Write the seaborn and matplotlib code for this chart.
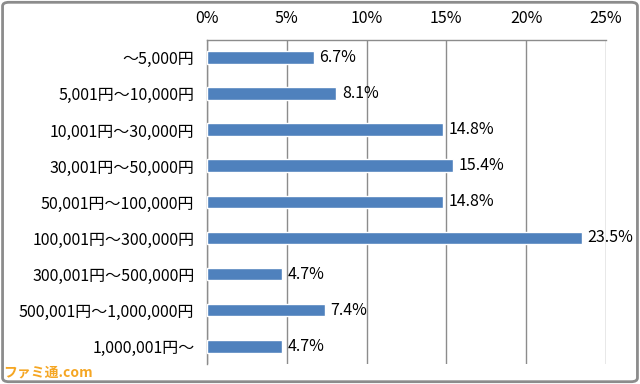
import matplotlib
matplotlib.use("Agg")
import pandas as pd
import seaborn as sns
from matplotlib import pyplot as plt
from matplotlib.patches import FancyBboxPatch

categories = ["～5,000円", "5,001円～10,000円", "10,001円～30,000円", "30,001円～50,000円",
              "50,001円～100,000円", "100,001円～300,000円", "300,001円～500,000円",
              "500,001円～1,000,000円", "1,000,001円～"]
values = [6.7, 8.1, 14.8, 15.4, 14.8, 23.5, 4.7, 7.4, 4.7]
tick_values = [0, 5, 10, 15, 20, 25]
tick_labels = ["0%", "5%", "10%", "15%", "20%", "25%"]

sns.set_theme(style="white")
plt.rcParams['font.family'] = ['Noto Sans CJK JP', 'DejaVu Sans']

df = pd.DataFrame({"category": categories, "value": values})

fig = plt.figure(figsize=(6.4, 3.84), dpi=100)
ax = fig.add_axes([0.3234, 0.052, 0.6234, 0.844])

sns.barplot(data=df, x="value", y="category", color="#4F81BD", width=0.36,
            saturation=1, ax=ax, zorder=3)

ax.set_xlim(0, 25)
ax.set_xticks(tick_values)
ax.set_xticklabels(tick_labels)
ax.xaxis.tick_top()
ax.tick_params(axis="x", length=0, pad=9, labelsize=11.5, colors="black")
ax.tick_params(axis="y", length=0, pad=9, labelsize=11.5, colors="black")
ax.set_xlabel("")
ax.set_ylabel("")
ax.grid(axis="x", color="#8c8c8c", linewidth=1, zorder=0)
ax.grid(axis="y", visible=False)

for side in ["bottom", "right"]:
    ax.spines[side].set_visible(False)
for side in ["top", "left"]:
    ax.spines[side].set_color("#8c8c8c")
    ax.spines[side].set_linewidth(1)

for i, v in enumerate(values):
    ax.text(v + 0.35, i, f"{v:.1f}%", va="center", ha="left", fontsize=11.5, color="black")

# outer frame
frame = FancyBboxPatch((0.004, 0.006), 0.992, 0.988, boxstyle="round,pad=0,rounding_size=0.01",
                       transform=fig.transFigure, fill=False, edgecolor="#8c8c8c", linewidth=2)
fig.patches.append(frame)

fig.text(0.005, 0.012, "ファミ通.com", fontsize=10, fontweight="bold", color="#f5a623",
         ha="left", va="bottom")

fig.savefig("out.png", dpi=100)
